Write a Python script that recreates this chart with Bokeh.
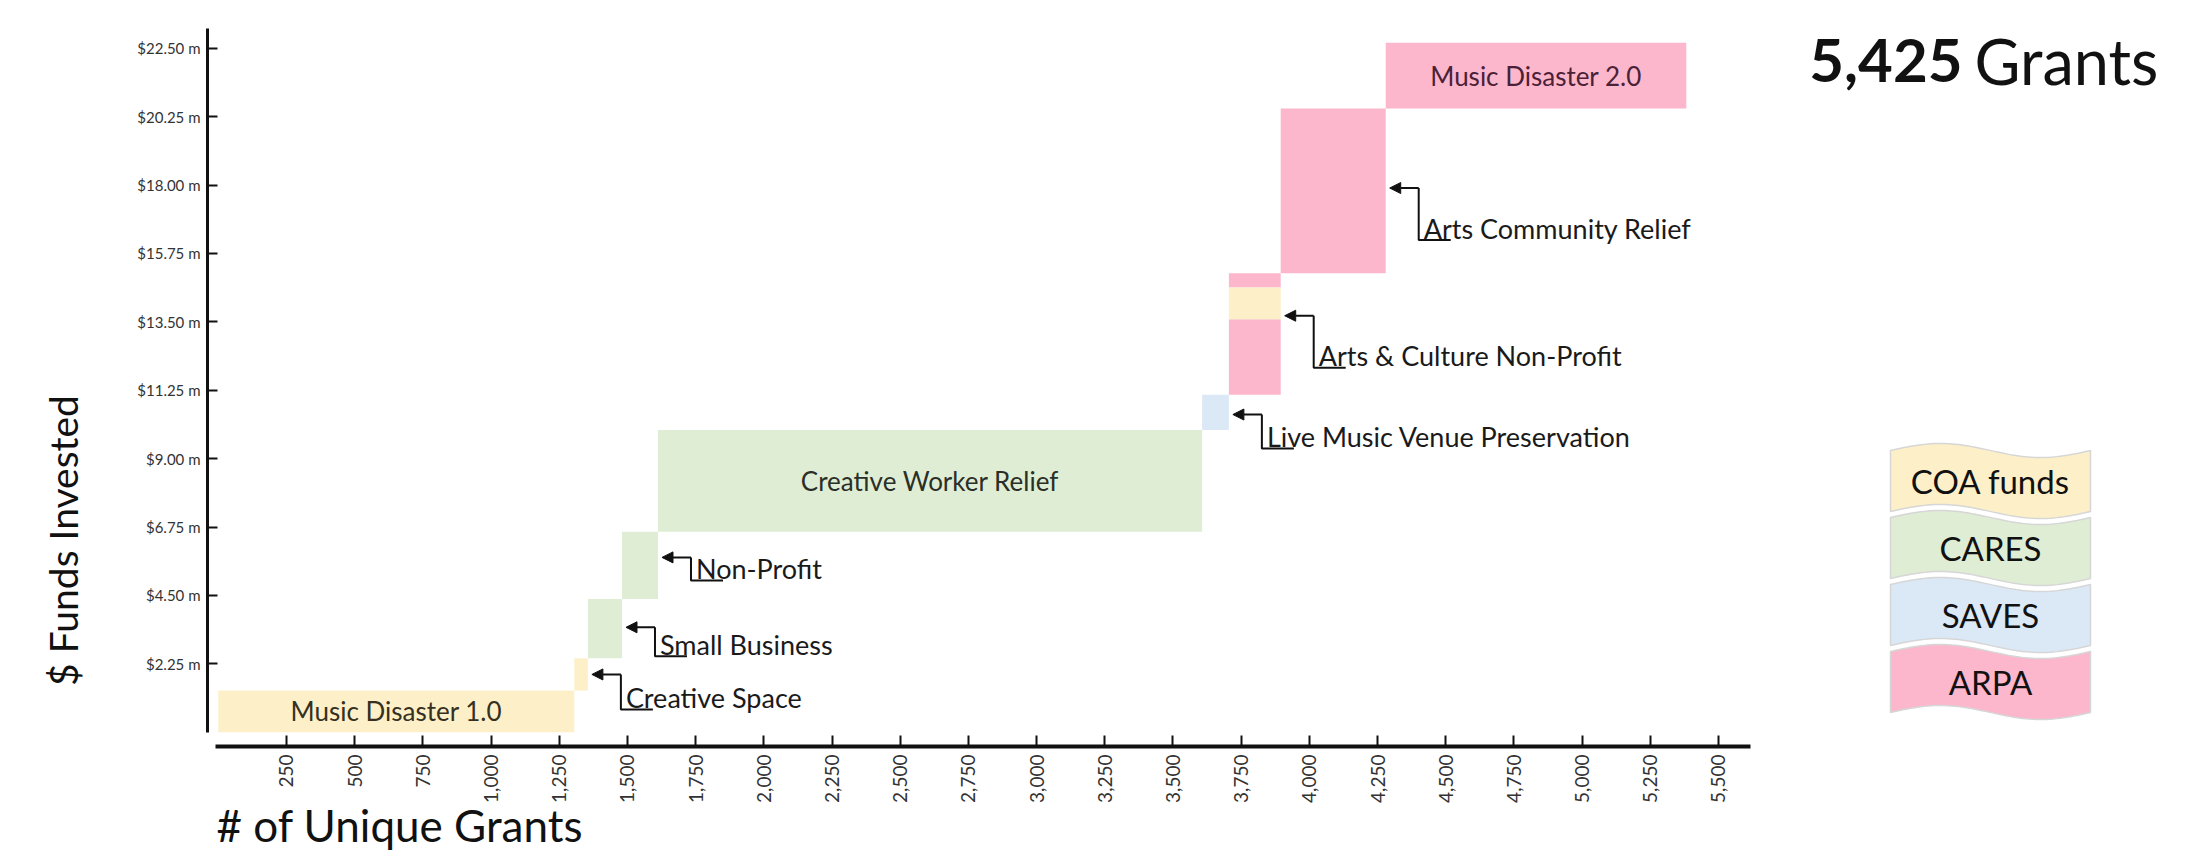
import math
import numpy as np
from bokeh.plotting import figure
from bokeh.models import (ColumnDataSource, FixedTicker, NumeralTickFormatter,
                          PrintfTickFormatter, Range1d, Arrow, NormalHead, LinearAxis)
from bokeh.core.properties import value
from bokeh.embed import file_html
from bokeh.resources import INLINE

# ---------------- data ----------------
programs = ["Music Disaster 1.0", "Creative Space", "Small Business", "Non-Profit",
            "Creative Worker Relief", "Live Music Venue Preservation",
            "Arts & Culture Non-Profit", "Arts Community Relief", "Music Disaster 2.0"]
# cumulative count of unique grants at the end of each program
grants_cum = [1305, 1355, 1480, 1612, 3607, 3705, 3895, 4280, 5382]

# funding segments: program index, funding source, cumulative $m at the segment top
seg_program = [0, 1, 2, 3, 4, 5, 6, 6, 6, 7, 8]
seg_source = ["COA funds", "COA funds", "CARES", "CARES", "CARES", "SAVES",
              "ARPA", "COA funds", "ARPA", "ARPA", "ARPA"]
seg_funds_cum = [1.37, 2.43, 4.38, 6.59, 9.94, 11.10, 13.58, 14.64, 15.10, 20.52, 22.68]

sources = ["COA funds", "CARES", "SAVES", "ARPA"]
source_colors = ["#fdf0c8", "#e0edd5", "#dbe8f6", "#fcb7cd"]

x_ticks = list(range(250, 5501, 250))
y_ticks = [2.25, 4.50, 6.75, 9.00, 11.25, 13.50, 15.75, 18.00, 20.25, 22.50]

total_grants = "5,425"
title_word = "Grants"
x_title = "# of Unique Grants"
y_title = "$ Funds Invested"

inside_labels = ["Music Disaster 1.0", "Creative Worker Relief", "Music Disaster 2.0"]
inside_colors = ["#35301f", "#2a2f27", "#4a2136"]
callouts = ["Creative Space", "Small Business", "Non-Profit",
            "Live Music Venue Preservation", "Arts & Culture Non-Profit",
            "Arts Community Relief"]
callout_anchor = [1.90, 3.45, 5.75, 10.45, 13.70, 17.90]   # $m where each arrow points

# ---------------- geometry ----------------
W, H = 2185, 851
OFF = 0                # page offset of the figure
G0_PX, PXG = 217.8, 0.27276   # page x of 0 grants, pixels per grant
M0_PX, PXM = 731.7, 30.4      # page y of $0, pixels per $m
X0 = (OFF - G0_PX) / PXG
X1 = X0 + W / PXG
Y1 = (M0_PX - OFF) / PXM
Y0 = Y1 - H / PXM

def gx(px):  # page pixel x -> data x
    return (px - G0_PX) / PXG

def my(py):  # page pixel y -> data y
    return (M0_PX - py) / PXM

FONT = "Lato"

p = figure(width=W, height=H, output_backend="svg", toolbar_location=None,
           x_range=Range1d(X0, X1), y_range=Range1d(Y0, Y1),
           x_axis_location=None, y_axis_location=None, min_border=0)
p.outline_line_color = None
p.grid.visible = False
p.background_fill_color = "white"
p.border_fill_color = "white"

# ---------------- bars ----------------
prog_left = [0] + grants_cum[:-1]
seg_bottom = [0.0] + seg_funds_cum[:-1]
bars = ColumnDataSource(dict(
    left=[prog_left[i] for i in seg_program],
    right=[grants_cum[i] for i in seg_program],
    bottom=seg_bottom,
    top=seg_funds_cum,
    color=[source_colors[sources.index(s)] for s in seg_source],
))
p.quad(left="left", right="right", bottom="bottom", top="top", source=bars,
       fill_color="color", line_color=None)

prog_bottom = [min(seg_bottom[k] for k in range(len(seg_program)) if seg_program[k] == i)
               for i in range(len(programs))]
prog_top = [max(seg_funds_cum[k] for k in range(len(seg_program)) if seg_program[k] == i)
            for i in range(len(programs))]

# labels inside bars
idx = [programs.index(n) for n in inside_labels]
inside = ColumnDataSource(dict(
    x=[(prog_left[i] + grants_cum[i]) / 2 for i in idx],
    y=[(prog_bottom[i] + prog_top[i]) / 2 for i in idx],
    text=inside_labels, color=inside_colors))
p.text(x="x", y="y", text="text", source=inside, text_align="center",
       text_baseline="middle", text_font=value(FONT), text_font_size="26px",
       text_color="color")

# ---------------- callouts ----------------
drops = [35, 29, 23, 34, 52, 52]   # px
ax_s, ax_e, ay, lx, ly, tx, ty = [], [], [], [], [], [], []
for name, anchor, drop in zip(callouts, callout_anchor, drops):
    i = programs.index(name)
    edge = grants_cum[i]
    tip = edge + 4 / PXG
    elbow = edge + 33 / PXG
    bottom = anchor - drop / PXM
    ax_s.append(elbow); ax_e.append(tip); ay.append(anchor)
    lx.append([elbow, elbow, elbow + 32 / PXG]); ly.append([anchor, bottom, bottom])
    tx.append(elbow + 5 / PXG); ty.append(bottom + 12 / PXM)

p.multi_line(xs=lx, ys=ly, line_color="#111111", line_width=2)
arrow_src = ColumnDataSource(dict(xs=ax_s, xe=ax_e, y=ay))
p.add_layout(Arrow(end=NormalHead(size=11, fill_color="#111111", line_color="#111111"),
                   x_start="xs", y_start="y", x_end="xe", y_end="y",
                   source=arrow_src, line_color="#111111", line_width=2))
p.text(x=tx, y=ty, text=callouts, text_align="left", text_baseline="middle",
       text_font=value(FONT), text_font_size="27px", text_color="#1a1a1a")

# ---------------- axes ----------------
xa = LinearAxis(fixed_location=my(746))
xa.ticker = FixedTicker(ticks=x_ticks)
xa.formatter = NumeralTickFormatter(format="0,0")
xa.major_label_orientation = math.pi / 2
xa.bounds = (gx(215), gx(1750))
xa.axis_line_width = 4
xa.axis_line_color = "#111111"
xa.major_tick_line_width = 2
xa.major_tick_line_color = "#111111"
xa.major_tick_in = 11
xa.major_tick_out = 0
xa.minor_tick_line_color = None
xa.major_label_standoff = 8
xa.major_label_text_font = FONT
xa.major_label_text_font_size = "19px"
xa.major_label_text_color = "#333333"
p.add_layout(xa, "below")

ya = LinearAxis(fixed_location=gx(207))
ya.ticker = FixedTicker(ticks=y_ticks)
ya.formatter = PrintfTickFormatter(format="$%.2f m")
ya.bounds = (0, my(28))
ya.axis_line_width = 3
ya.axis_line_color = "#111111"
ya.major_tick_line_width = 2
ya.major_tick_line_color = "#111111"
ya.major_tick_in = 10
ya.major_tick_out = 0
ya.minor_tick_line_color = None
ya.major_label_standoff = 7
ya.major_label_text_font = FONT
ya.major_label_text_font_size = "15px"
ya.major_label_text_color = "#333333"
p.add_layout(ya, "left")

# axis titles
p.text(x=[gx(216)], y=[my(824)], text=[x_title], text_align="left",
       text_baseline="middle", text_font=value(FONT), text_font_size="44px",
       text_color="#111111")
p.text(x=[gx(62)], y=[my(540)], text=[y_title], text_align="center",
       text_baseline="middle", angle=math.pi / 2, text_font=value(FONT),
       text_font_size="39px", text_color="#111111")

# ---------------- title ----------------
p.text(x=[gx(1962)], y=[my(60)], text=[total_grants], text_align="right",
       text_baseline="middle", text_font=value(FONT), text_font_size="60px",
       text_font_style="bold", text_color="#111111")
p.text(x=[gx(1974)], y=[my(60)], text=[title_word], text_align="left",
       text_baseline="middle", text_font=value(FONT), text_font_size="63px",
       text_color="#111111")

# ---------------- wavy legend ----------------
t = np.linspace(0, 1, 60)
lg_left, lg_right = 1890, 2090
bx = gx(lg_left) + t * (gx(lg_right) - gx(lg_left))
wave = 7 * np.sin(2 * np.pi * t) / PXM
pxs, pys, cx, cy = [], [], [], []
for k, s in enumerate(sources):
    top_px = 450 + k * 67
    bot_px = top_px + 61
    top = my(top_px) + wave
    bot = my(bot_px) + wave
    pxs.append(list(bx) + list(bx[::-1]))
    pys.append(list(top) + list(bot[::-1]))
    cx.append((gx(lg_left) + gx(lg_right)) / 2)
    cy.append(my((top_px + bot_px) / 2))
p.patches(xs=pxs, ys=pys, fill_color=source_colors, line_color="#d6d6d6", line_width=1.5)
p.text(x=cx, y=cy, text=sources, text_align="center", text_baseline="middle",
       text_font=value(FONT), text_font_size="33px", text_color="#111111")

open("out.html", "w").write(file_html(p, INLINE))
